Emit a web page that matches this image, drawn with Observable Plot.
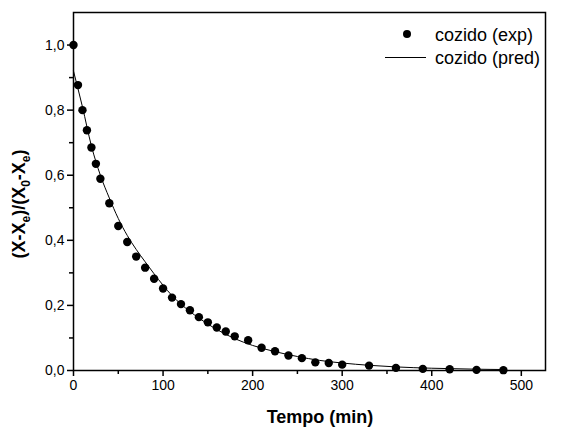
<!DOCTYPE html>
<html>
<head>
<meta charset="utf-8">
<script src="https://cdn.jsdelivr.net/npm/d3@7"></script>
<script src="https://cdn.jsdelivr.net/npm/@observablehq/plot@0.6"></script>
<style>
  html, body { margin: 0; padding: 0; background: #fff; }
  svg { display: block; }
</style>
</head>
<body>
<div id="chart"></div>
<script>
// Experimental data: cozido (exp)
const tExp = [0,5,10,15,20,25,30,40,50,60,70,80,90,100,110,120,130,140,150,160,170,180,195,210,225,240,255,270,285,300,330,360,390,420,450,480];
const yExp = [1.0,0.877,0.80,0.738,0.685,0.635,0.589,0.514,0.444,0.395,0.350,0.316,0.282,0.252,0.224,0.204,0.185,0.164,0.148,0.132,0.120,0.105,0.093,0.070,0.059,0.046,0.038,0.025,0.023,0.018,0.015,0.008,0.005,0.004,0.002,0.001];

// Predicted curve: cozido (pred)
const tPred = [0,10,20,30,40,50,60,70,80,90,100,110,120,140,160,180,200,225,250,275,300,330,360,400,450,480];
const yPred = [0.92,0.81,0.69,0.60,0.53,0.467,0.415,0.372,0.334,0.297,0.262,0.230,0.204,0.161,0.126,0.098,0.077,0.058,0.043,0.031,0.023,0.016,0.011,0.007,0.004,0.003];

// Tick values
const xMajor = [0,100,200,300,400,500];
const xMinor = [50,150,250,350,450];
const yMajor = [0,0.2,0.4,0.6,0.8,1.0];
const yMinor = [0.1,0.3,0.5,0.7,0.9];

const seriesLabels = ["cozido (exp)", "cozido (pred)"];
const xTitle = "Tempo (min)";

const expData = tExp.map((t, i) => ({t, v: yExp[i]}));
const predData = tPred.map((t, i) => ({t, v: yPred[i]}));
const fmtY = d => d.toFixed(1).replace(".", ",");

const plot = Plot.plot({
  width: 561,
  height: 428,
  marginLeft: 73,
  marginRight: 16,
  marginTop: 12,
  marginBottom: 58,
  x: {domain: [0, 527]},
  y: {domain: [0, 1.1]},
  style: {fontFamily: "'Liberation Sans', Arial, sans-serif", fontSize: "14px", color: "#000", background: "#fff"},
  marks: [
    Plot.axisX({ticks: xMajor, tickSize: 6, tickPadding: 4, tickFormat: d => String(d), label: null, strokeWidth: 1.5, fontSize: 14}),
    Plot.axisX({ticks: xMinor, tickSize: 4, tickFormat: () => "", label: null, strokeWidth: 1.5}),
    Plot.axisY({ticks: yMajor, tickSize: 6, tickPadding: 3, tickFormat: fmtY, label: null, strokeWidth: 1.5, fontSize: 14}),
    Plot.axisY({ticks: yMinor, tickSize: 4, tickFormat: () => "", label: null, strokeWidth: 1.5}),
    Plot.line(predData, {x: "t", y: "v", stroke: "#000", strokeWidth: 1, curve: "monotone-x"}),
    Plot.dot(expData, {x: "t", y: "v", r: 4.2, fill: "#000", stroke: "none"}),
    Plot.frame({stroke: "#000", strokeWidth: 1.5})
  ]
});

document.getElementById("chart").appendChild(plot);

const svg = d3.select(plot);
const FF = "'Liberation Sans', Arial, sans-serif";
// X axis title
svg.append("text")
  .attr("x", 320).attr("y", 423)
  .attr("text-anchor", "middle")
  .attr("font-family", FF)
  .attr("font-weight", "bold").attr("font-size", 18).attr("fill", "#000")
  .text(xTitle);

// Y axis title with subscripts
const yt = svg.append("text")
  .attr("transform", "translate(25,204) rotate(-90)")
  .attr("text-anchor", "middle")
  .attr("font-family", FF)
  .attr("font-weight", "bold").attr("font-size", 18).attr("fill", "#000");
const parts = [["(X-X", 0], ["e", 1], [")/(X", 0], ["0", 1], ["-X", 0], ["e", 1], [")", 0]];
let shifted = false;
parts.forEach(([s, sub]) => {
  const ts = yt.append("tspan").text(s);
  if (sub && !shifted) { ts.attr("dy", 5).attr("font-size", 12); shifted = true; }
  else if (sub) { ts.attr("font-size", 12); }
  else if (shifted) { ts.attr("dy", -5); shifted = false; }
});

// Legend
const lg = svg.append("g")
  .attr("font-family", FF)
  .attr("font-size", 18).attr("fill", "#000")
  .attr("text-anchor", "start");
lg.append("circle").attr("cx", 407).attr("cy", 34).attr("r", 4).attr("fill", "#000");
lg.append("text").attr("x", 435).attr("y", 40.5).attr("text-anchor", "start").text(seriesLabels[0]);
lg.append("line").attr("x1", 385).attr("x2", 426).attr("y1", 57.5).attr("y2", 57.5).attr("stroke", "#000").attr("stroke-width", 1);
lg.append("text").attr("x", 435).attr("y", 63.5).attr("text-anchor", "start").text(seriesLabels[1]);
</script>
</body>
</html>
